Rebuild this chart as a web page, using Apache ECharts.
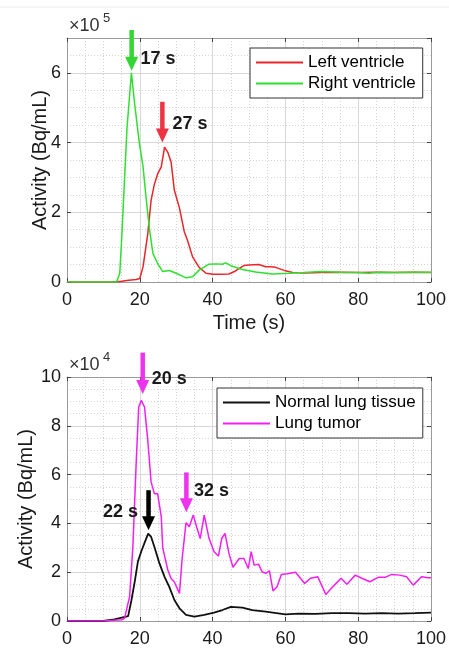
<!DOCTYPE html>
<html><head><meta charset="utf-8">
<script src="https://cdn.jsdelivr.net/npm/echarts@6/dist/echarts.min.js"></script>
<style>html,body{margin:0;padding:0;background:#fff}#c{width:449px;height:651px}</style>
</head><body><div id="c"></div>
<script>
// ---------------- data ----------------
// Top panel (x10^5 Bq/mL)
const tRight = [0, 13.6, 14.5, 15, 15.6, 16.5, 17.7, 18.6, 19.9, 20.9, 21.8, 22.7, 23.6, 24.9, 26.3, 28.1, 30, 32.7, 34.5, 36.3, 39, 41, 42.7, 43.6, 45.4, 48.2, 51.8, 56.4, 61, 65, 70, 75, 80, 83, 85, 90, 95, 100];
const rightVentricle = [0, 0, 0.25, 1.2, 2.5, 4.44, 6.0, 5.1, 3.97, 3.3, 2.34, 1.49, 0.82, 0.53, 0.3, 0.33, 0.25, 0.12, 0.15, 0.34, 0.51, 0.52, 0.51, 0.55, 0.45, 0.36, 0.29, 0.23, 0.25, 0.27, 0.3, 0.28, 0.27, 0.25, 0.28, 0.27, 0.28, 0.28];
const tLeft = [0, 13, 15, 17, 19, 20, 20.9, 22.2, 23.1, 24, 24.9, 25.9, 26.8, 27.7, 28.6, 29.5, 30.9, 32.2, 33.1, 34.5, 36.3, 38.2, 40, 42, 44.5, 46, 47.3, 48.6, 50, 52.7, 54.6, 56, 57.3, 60, 62, 65, 70, 75, 80, 85, 90, 95, 100];
const leftVentricle = [0, 0, 0.02, 0.05, 0.07, 0.1, 0.44, 1.39, 2.34, 2.8, 3.1, 3.3, 3.87, 3.72, 3.44, 2.63, 2.12, 1.45, 1.2, 0.72, 0.42, 0.25, 0.22, 0.22, 0.23, 0.3, 0.39, 0.47, 0.49, 0.5, 0.44, 0.44, 0.42, 0.32, 0.27, 0.26, 0.27, 0.28, 0.27, 0.28, 0.27, 0.28, 0.27];
// Bottom panel (x10^4 Bq/mL)
const tNormal = [0, 10, 13, 16.8, 17.7, 18.6, 19.5, 20.4, 21.3, 22.3, 23.1, 24, 25.4, 26.8, 28.1, 29.5, 30.9, 32.7, 35, 37.7, 40.4, 42.7, 45, 48.2, 50.9, 54.6, 60, 63.7, 68.3, 72.8, 77.3, 81.9, 86.4, 91, 95.6, 100];
const normalLung = [0, 0, 0.07, 0.2, 0.85, 1.6, 2.45, 2.85, 3.2, 3.58, 3.45, 3.04, 2.36, 1.81, 1.4, 0.86, 0.52, 0.25, 0.18, 0.25, 0.34, 0.45, 0.58, 0.55, 0.45, 0.38, 0.27, 0.3, 0.29, 0.32, 0.32, 0.3, 0.32, 0.3, 0.32, 0.34];
const tTumor = [0, 10, 15, 15.8, 17.2, 18.1, 19, 19.7, 20.4, 21.3, 22.2, 23.1, 24, 24.9, 25.9, 26.3, 27.7, 28.6, 29.5, 30.9, 31.6, 32.7, 33.6, 34.7, 35.6, 36.6, 37.7, 39, 40.4, 41.6, 42.5, 43.4, 44.5, 45.6, 47.3, 48.6, 49.8, 50.6, 51.4, 52.6, 53.6, 54.6, 55.6, 56.6, 57.7, 58.9, 60.5, 62.8, 65.3, 66.9, 68.9, 71.1, 73.2, 75.3, 76.9, 79.2, 81, 83.2, 85.5, 87.4, 89.2, 91.4, 93.3, 95.1, 97.4, 99.2, 100];
const lungTumor = [0, 0, 0.05, 0.11, 1.0, 3.04, 6.45, 8.77, 9.04, 8.77, 7.4, 5.7, 5.22, 5.22, 4.27, 3.0, 2.09, 1.74, 1.6, 1.13, 2.5, 4.03, 3.86, 4.34, 3.86, 3.38, 4.34, 3.4, 2.84, 2.66, 3.38, 3.59, 2.77, 2.2, 2.56, 2.56, 2.15, 2.84, 2.29, 2.33, 2.02, 1.95, 2.06, 1.23, 1.4, 1.91, 1.94, 2.0, 1.54, 1.75, 1.81, 1.09, 1.43, 1.75, 1.51, 1.88, 1.75, 1.61, 1.79, 1.79, 1.91, 1.88, 1.81, 1.47, 1.81, 1.77, 1.77];

// axis ranges [min, max, major, minor]
const xRange = [0, 100, 20, 5];
const yTopRange = [0, 7, 2, 0.5];
const yBotRange = [0, 10, 2, 0.5];

// annotations (data units): label, arrow x, arrow start y, arrow tip y, label x, label y
const annTop = [
  ['17 s', 17.76, 7.23, 6.06, 20.2, 6.4],
  ['27 s', 26.2, 5.17, 4.0, 29.0, 4.54]
];
const annBot = [
  ['20 s', 20.8, 11.0, 9.3, 23.3, 9.9],
  ['22 s', 22.4, 5.36, 3.72, 19.5, 4.46],
  ['32 s', 32.8, 6.09, 4.46, 34.9, 5.32]
];

// ---------------- chart ----------------
const FONT = "'Liberation Sans', Arial, Helvetica, sans-serif";
const TXT = '#1a1a1a';
const C_RED = '#e8262b', C_GREEN = '#2fe02f', C_MAG = '#f21ff2', C_BLK = '#111111';
const chart = echarts.init(document.getElementById('c'), null, {renderer: 'canvas'});

const grids = [
  {left: 67, top: 38, width: 366, height: 244},
  {left: 67, top: 377, width: 366, height: 244}
];

function xAxes(g, withName) {
  const [mn, mx, maj, mnr] = xRange;
  return [
    {type: 'value', gridIndex: g, min: mn, max: mx, interval: maj, position: 'bottom', z: 2,
     axisLine: {show: true, onZero: false, lineStyle: {color: '#9a9a9a'}},
     axisTick: {show: true, inside: true, length: 4, lineStyle: {color: '#444'}},
     axisLabel: {color: TXT, fontSize: 18, fontFamily: FONT, margin: 9},
     splitLine: {show: true, lineStyle: {color: '#d8d8d8'}},
     name: withName ? 'Time (s)' : '', nameLocation: 'middle', nameGap: 31, nameMoveOverlap: false,
     nameTextStyle: {color: TXT, fontSize: 20, fontFamily: FONT}},
    {type: 'value', gridIndex: g, min: mn, max: mx, interval: mnr, position: 'bottom', z: 0,
     axisLine: {show: false}, axisTick: {show: false}, axisLabel: {show: false},
     splitLine: {show: true, lineStyle: {color: '#d4d4d4', type: [1, 2]}}},
    {type: 'value', gridIndex: g, min: mn, max: mx, interval: maj, position: 'top', z: 2,
     axisLine: {show: true, onZero: false, lineStyle: {color: '#9a9a9a'}},
     axisTick: {show: true, inside: true, length: 4, lineStyle: {color: '#444'}},
     axisLabel: {show: false}, splitLine: {show: false}}
  ];
}
function yAxes(g, r, gap) {
  const [mn, mx, maj, mnr] = r;
  return [
    {type: 'value', gridIndex: g, min: mn, max: mx, interval: maj, position: 'left', z: 2,
     axisLine: {show: true, onZero: false, lineStyle: {color: '#9a9a9a'}},
     axisTick: {show: true, inside: true, length: 4, lineStyle: {color: '#444'}},
     axisLabel: {color: TXT, fontSize: 18, fontFamily: FONT, margin: 6, showMaxLabel: (mx % maj === 0)},
     splitLine: {show: true, lineStyle: {color: '#d8d8d8'}},
     name: 'Activity (Bq/mL)', nameLocation: 'middle', nameGap: gap, nameMoveOverlap: false,
     nameTextStyle: {color: TXT, fontSize: 20, fontFamily: FONT}},
    {type: 'value', gridIndex: g, min: mn, max: mx, interval: mnr, position: 'left', z: 0,
     axisLine: {show: false}, axisTick: {show: false}, axisLabel: {show: false},
     splitLine: {show: true, lineStyle: {color: '#d4d4d4', type: [1, 2]}}},
    {type: 'value', gridIndex: g, min: mn, max: mx, interval: maj, position: 'right', z: 2,
     axisLine: {show: true, onZero: false, lineStyle: {color: '#9a9a9a'}},
     axisTick: {show: true, inside: true, length: 4, lineStyle: {color: '#444'}},
     axisLabel: {show: false}, splitLine: {show: false}}
  ];
}

function zip(t, v) { return t.map((x, i) => [x, v[i]]); }
function lineSeries(name, t, v, color, ax, w) {
  return {type: 'line', name, xAxisIndex: ax, yAxisIndex: ax, data: zip(t, v),
    symbol: 'none', showSymbol: false, lineStyle: {color, width: w}, itemStyle: {color},
    animation: false, z: 3};
}
const legendBase = {orient: 'vertical', icon: 'rect', itemWidth: 47, itemHeight: 2, itemGap: 4,
  padding: [6, 7, 6, 6], borderColor: '#333', borderWidth: 1, backgroundColor: '#fff',
  borderRadius: 0, textStyle: {fontSize: 17, color: '#000', fontFamily: FONT}};

chart.setOption({
  animation: false,
  backgroundColor: '#fff',
  textStyle: {fontFamily: FONT},
  grid: grids,
  xAxis: [...xAxes(0, true), ...xAxes(1, false)],
  yAxis: [...yAxes(0, yTopRange, 17), ...yAxes(1, yBotRange, 31)],
  legend: [
    Object.assign({}, legendBase, {data: ['Left ventricle', 'Right ventricle'], left: 250, top: 48}),
    Object.assign({}, legendBase, {data: ['Normal lung tissue', 'Lung tumor'], left: 217, top: 388})
  ],
  series: [
    lineSeries('Left ventricle', tLeft, leftVentricle, C_RED, 0, 1.5),
    lineSeries('Right ventricle', tRight, rightVentricle, C_GREEN, 0, 1.5),
    lineSeries('Normal lung tissue', tNormal, normalLung, C_BLK, 3, 1.8),
    lineSeries('Lung tumor', tTumor, lungTumor, C_MAG, 3, 1.5)
  ]
});

// annotations placed through the axes' scales
const arrowColors = [['#33d633', '#ee3344'], ['#ee33ee', '#000000', '#ee33ee']];
const graphics = [
  {type: 'line', shape: {x1: 0, y1: 7, x2: 449, y2: 7}, style: {stroke: '#ececec', lineWidth: 1}},
  {type: 'text', left: 69, top: 17, style: {text: '×10', fontSize: 18, fill: '#333', fontFamily: FONT}},
  {type: 'text', left: 103, top: 12, style: {text: '5', fontSize: 13, fill: '#333', fontFamily: FONT}},
  {type: 'text', left: 69, top: 356, style: {text: '×10', fontSize: 18, fill: '#333', fontFamily: FONT}},
  {type: 'text', left: 103, top: 351, style: {text: '4', fontSize: 13, fill: '#333', fontFamily: FONT}}
];
function addArrows(list, axIdx, colors) {
  list.forEach((a, i) => {
    const [label, x, y0, y1, lx, ly] = a;
    const p0 = chart.convertToPixel({xAxisIndex: axIdx, yAxisIndex: axIdx}, [x, y0]);
    const p1 = chart.convertToPixel({xAxisIndex: axIdx, yAxisIndex: axIdx}, [x, y1]);
    const pl = chart.convertToPixel({xAxisIndex: axIdx, yAxisIndex: axIdx}, [lx, ly]);
    const col = colors[i];
    const headH = 14, hw = 6.5, sw = 4.5;
    graphics.push({type: 'rect', z: 10, shape: {x: p0[0] - sw / 2, y: p0[1], width: sw, height: p1[1] - headH - p0[1] + 1},
      style: {fill: col}});
    graphics.push({type: 'polygon', z: 10, shape: {points: [[p1[0] - hw, p1[1] - headH], [p1[0] + hw, p1[1] - headH], [p1[0], p1[1]]]},
      style: {fill: col}});
    const right = lx < x;
    graphics.push({type: 'text', z: 10, x: pl[0], y: pl[1],
      style: {text: label, fontSize: 18, fontWeight: 'bold', fill: TXT, fontFamily: FONT,
        align: right ? 'right' : 'left', verticalAlign: 'middle'}});
  });
}
addArrows(annTop, 0, arrowColors[0]);
addArrows(annBot, 3, arrowColors[1]);
chart.setOption({graphic: graphics});
</script></body></html>
